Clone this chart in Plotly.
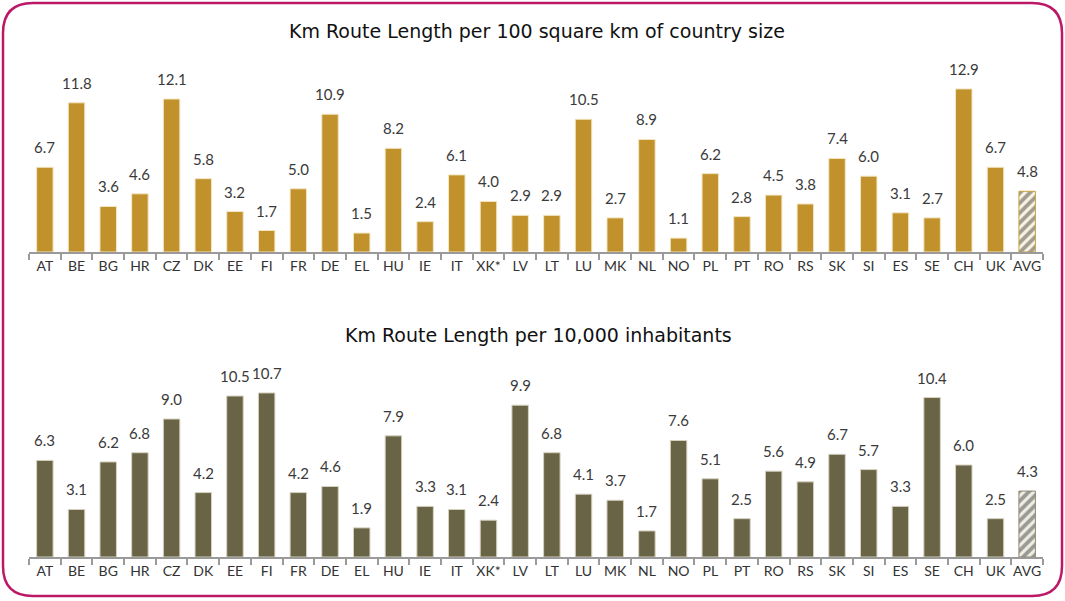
import plotly.graph_objects as go

categories = ["AT","BE","BG","HR","CZ","DK","EE","FI","FR","DE","EL","HU","IE","IT","XK*","LV","LT","LU","MK","NL","NO","PL","PT","RO","RS","SK","SI","ES","SE","CH","UK","AVG"]
per_area = [6.7,11.8,3.6,4.6,12.1,5.8,3.2,1.7,5.0,10.9,1.5,8.2,2.4,6.1,4.0,2.9,2.9,10.5,2.7,8.9,1.1,6.2,2.8,4.5,3.8,7.4,6.0,3.1,2.7,12.9,6.7,4.8]
per_inhab = [6.3,3.1,6.2,6.8,9.0,4.2,10.5,10.7,4.2,4.6,1.9,7.9,3.3,3.1,2.4,9.9,6.8,4.1,3.7,1.7,7.6,5.1,2.5,5.6,4.9,6.7,5.7,3.3,10.4,6.0,2.5,4.3]
title_top = "Km Route Length per 100 square km of country size"
title_bottom = "Km Route Length per 10,000 inhabitants"

W, H = 1065, 601
gold = "#C1922B"
olive = "#6A6446"

def colors(base, avg_bg):
    return [avg_bg if c == "AVG" else base for c in categories]

def shapes_():
    return ["/" if c == "AVG" else "" for c in categories]

label_font = dict(family="Lato, Noto Sans, sans-serif", size=15, color="#3A3A3A")

fig = go.Figure()
fig.add_trace(go.Bar(
    x=categories, y=per_area, xaxis="x", yaxis="y",
    marker=dict(color=colors(gold, "#FBF4E0"),
                line=dict(color=["#C9A040" if c == "AVG" else "#F3E6C4" for c in categories], width=1),
                pattern=dict(shape=shapes_(), fgcolor="#C8982E", size=7, solidity=0.55, fillmode="overlay")),
    showlegend=False, hoverinfo="x+y"))
fig.add_trace(go.Bar(
    x=categories, y=per_inhab, xaxis="x2", yaxis="y2",
    marker=dict(color=colors(olive, "#F0EFE6"),
                line=dict(color=["#8E8970" if c == "AVG" else "#D6D2C0" for c in categories], width=1),
                pattern=dict(shape=shapes_(), fgcolor="#6A6446", size=7, solidity=0.55, fillmode="overlay")),
    showlegend=False, hoverinfo="x+y"))

annotations = []
for xr, yr, vals in (("x", "y", per_area), ("x2", "y2", per_inhab)):
    for c, v in zip(categories, vals):
        annotations.append(dict(x=c, y=v, xref=xr, yref=yr, text=f"{v:.1f}", showarrow=False,
                                xanchor="center", yanchor="bottom", yshift=9, font=label_font))

xdom = [29 / W, 1043 / W]
axis_common = dict(domain=xdom, showgrid=False, showline=True, linecolor="#9A9A9A", linewidth=2,
                   ticks="outside", tickson="boundaries", ticklen=6, tickcolor="#9A9A9A", tickwidth=1.5,
                   tickangle=0,
                   tickfont=dict(family="Lato, Noto Sans, sans-serif", size=14, color="#333333"),
                   fixedrange=True)
annotations += [
    dict(text=title_top, x=537 / W, y=1 - 31 / H, xref="paper", yref="paper", showarrow=False,
         xanchor="center", yanchor="middle",
         font=dict(family="DejaVu Sans, Verdana, sans-serif", size=19, color="#111111")),
    dict(text=title_bottom, x=538 / W, y=1 - 335 / H, xref="paper", yref="paper", showarrow=False,
         xanchor="center", yanchor="middle",
         font=dict(family="DejaVu Sans, Verdana, sans-serif", size=19, color="#111111")),
]
fig.update_layout(
    width=W, height=H,
    margin=dict(l=0, r=0, t=0, b=0),
    paper_bgcolor="white", plot_bgcolor="white",
    bargap=0.48,
    xaxis=dict(axis_common, anchor="y"),
    xaxis2=dict(axis_common, anchor="y2"),
    yaxis=dict(domain=[1 - 252 / H, 1 - 75 / H], range=[0, 14], visible=False, fixedrange=True),
    yaxis2=dict(domain=[1 - 557 / H, 1 - 373 / H], range=[0, 12], visible=False, fixedrange=True),
    annotations=annotations,
)

# rounded border
x0, x1 = 3 / W, 1062 / W
y0, y1 = 1 - 596 / H, 1 - 3 / H
rx, ry = 30 / W, 30 / H
path = (f"M {x0+rx},{y1} L {x1-rx},{y1} Q {x1},{y1} {x1},{y1-ry} "
        f"L {x1},{y0+ry} Q {x1},{y0} {x1-rx},{y0} "
        f"L {x0+rx},{y0} Q {x0},{y0} {x0},{y0+ry} "
        f"L {x0},{y1-ry} Q {x0},{y1} {x0+rx},{y1} Z")
fig.add_shape(type="path", path=path, xref="paper", yref="paper",
              line=dict(color="#BD1868", width=2.5), layer="above")

fig.write_html("out.html", config={"displayModeBar": False},
               post_script="document.body.style.margin='0';document.body.style.overflow='hidden';")
